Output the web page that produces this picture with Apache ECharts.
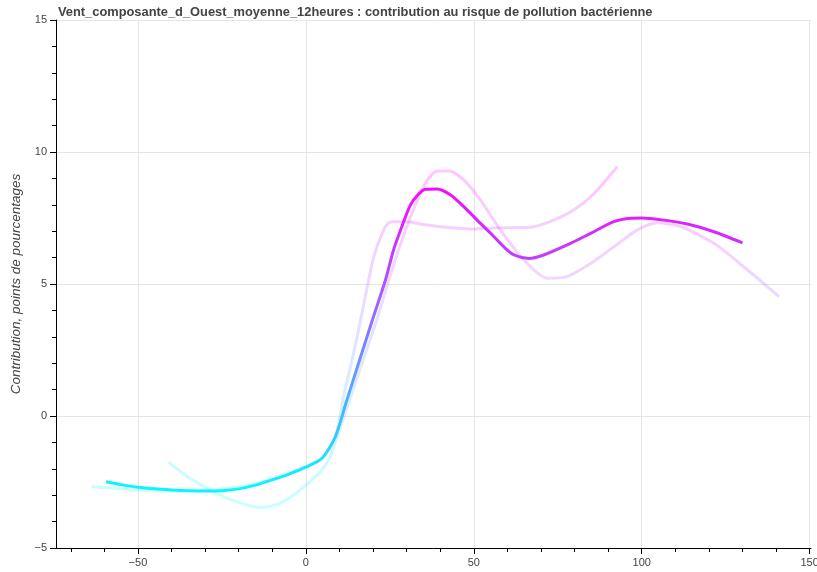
<!DOCTYPE html>
<html><head><meta charset="utf-8">
<script src="https://cdn.jsdelivr.net/npm/echarts@6/dist/echarts.min.js"></script>
<style>html,body{margin:0;padding:0;background:#fff}#c{width:817px;height:572px}</style>
</head><body><div id="c"></div>
<script>
const titleText = 'Vent_composante_d_Ouest_moyenne_12heures : contribution au risque de pollution bactérienne';
const yAxisTitle = 'Contribution, points de pourcentages';
const xTicks = [-50, 0, 50, 100, 150];
const yTicks = [-5, 0, 5, 10, 15];

const mainX = [-59.5, -55, -50, -45, -40, -35, -30, -25, -20, -15, -10, -5, 0, 4.8, 8.8, 12, 16, 20, 23.7, 26.1, 28.5, 31.1, 33.5, 35.6, 39.1, 43.1, 47.0, 51.0, 55.0, 59.4, 62, 66.4, 70.8, 77.8, 84.8, 91.7, 96.7, 100, 106.6, 113.6, 121.5, 130];
const mainY = [-2.49, -2.60, -2.70, -2.76, -2.80, -2.83, -2.84, -2.83, -2.76, -2.62, -2.42, -2.20, -1.94, -1.60, -0.78, 0.52, 2.12, 3.71, 5.15, 6.29, 7.15, 7.99, 8.40, 8.59, 8.60, 8.37, 7.93, 7.42, 6.92, 6.35, 6.10, 5.97, 6.10, 6.48, 6.92, 7.36, 7.49, 7.50, 7.42, 7.27, 6.98, 6.56];

const bandAX = [-40.9, -34.5, -27.5, -20.5, -13.6, -7.6, -1.7, 4.3, 7, 9, 11.7, 15, 18.2, 21.5, 24.7, 27.6, 30, 32.6, 36, 39.1, 42.5, 47, 52, 57.9, 64.9, 71.9, 77.8, 84.8, 91.7, 98.7, 104.6, 111.6, 121.5, 131.5, 140.9];
const bandAY = [-1.75, -2.36, -2.87, -3.25, -3.46, -3.31, -2.80, -2.11, -1.6, -0.9, 0.1, 1.35, 2.55, 3.8, 5.15, 6.3, 7.15, 8.0, 8.9, 9.28, 9.28, 8.94, 8.18, 7.05, 5.91, 5.22, 5.28, 5.78, 6.41, 7.05, 7.32, 7.17, 6.54, 5.53, 4.52];

const bandBX = [-63.8, -57, -50, -40, -30, -22.5, -15, -10, -5, 0, 4.8, 8.8, 11.2, 14.2, 16.7, 18.7, 20.2, 22.7, 24.5, 26.1, 30.1, 35, 40.1, 50.0, 57.9, 63.9, 67.9, 73.8, 79.8, 85.8, 92.7];
const bandBY = [-2.68, -2.74, -2.80, -2.83, -2.82, -2.74, -2.56, -2.36, -2.14, -1.90, -1.60, -0.78, 0.73, 2.37, 3.89, 5.15, 6.03, 6.92, 7.30, 7.36, 7.36, 7.25, 7.17, 7.08, 7.13, 7.14, 7.17, 7.42, 7.80, 8.43, 9.44];

const pairs = (xs, ys) => xs.map((x, i) => [x, ys[i]]);
const fmt = v => String(v).replace('-', '\u2212');
const chart = echarts.init(document.getElementById('c'), null, {renderer: 'canvas'});
const faint = (name, xs, ys) => ({
  name, type: 'line', data: pairs(xs, ys), showSymbol: false, smooth: 0.25,
  lineStyle: {width: 3, opacity: 0.22}, z: 1, silent: true
});
chart.setOption({
  animation: false,
  backgroundColor: '#fff',
  title: {text: titleText, left: 53, top: 1,
    textStyle: {fontFamily: 'Liberation Sans', fontWeight: 'bold', fontSize: 12.85, color: '#444'}},
  grid: {left: 56, right: 6, top: 20, bottom: 24, outerBoundsMode: 'none', containLabel: false},
  visualMap: {type: 'continuous', show: false, dimension: 1, min: -3.2, max: 9.0,
    seriesIndex: [0, 1, 2], inRange: {color: ['#00ffff', '#ff00ff']}},
  xAxis: {type: 'value', min: -74.4, max: 150.4,
    axisLine: {onZero: false, lineStyle: {color: '#000', width: 1}},
    axisTick: {customValues: xTicks, length: 6, lineStyle: {color: '#000'}},
    minorTick: {show: true, splitNumber: 5, length: 4, lineStyle: {color: '#000'}},
    axisLabel: {customValues: xTicks, formatter: fmt, margin: 9, color: '#444', fontSize: 11, fontFamily: 'Liberation Sans'},
    splitLine: {show: true, lineStyle: {color: '#e5e5e5', width: 1}}},
  yAxis: {type: 'value', min: -5, max: 15, interval: 5,
    name: yAxisTitle, nameLocation: 'middle', nameGap: 30,
    nameTextStyle: {fontStyle: 'italic', fontSize: 13.5, color: '#444', fontFamily: 'Liberation Sans'},
    axisLine: {show: true, onZero: false, lineStyle: {color: '#000', width: 1}},
    axisTick: {show: true, length: 6, lineStyle: {color: '#000'}},
    minorTick: {show: true, splitNumber: 5, length: 4, lineStyle: {color: '#000'}},
    axisLabel: {formatter: fmt, margin: 9, color: '#444', fontSize: 11, fontFamily: 'Liberation Sans'},
    splitLine: {show: true, lineStyle: {color: '#e5e5e5', width: 1}}},
  series: [
    faint('bandA', bandAX, bandAY),
    faint('bandB', bandBX, bandBY),
    {name: 'main', type: 'line', data: pairs(mainX, mainY), showSymbol: false, smooth: 0.25,
      lineStyle: {width: 3}, z: 3, silent: true}
  ]
});
</script></body></html>
